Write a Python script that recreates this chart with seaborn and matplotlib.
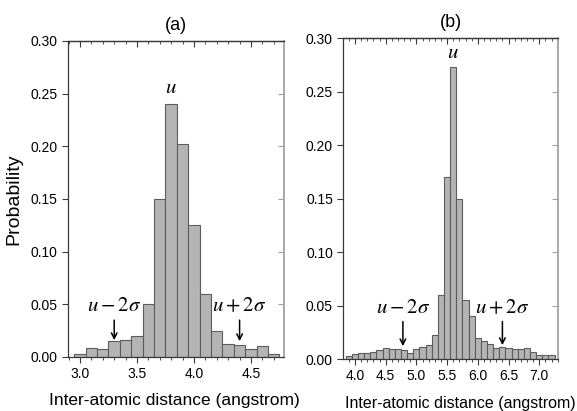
import numpy as np
import seaborn as sns
from matplotlib import pyplot as plt
from matplotlib.ticker import MultipleLocator

# panel (a): bin centres and probabilities
dist_a = [3.0, 3.1, 3.2, 3.3, 3.4, 3.5, 3.6, 3.7, 3.8, 3.9,
          4.0, 4.1, 4.2, 4.3, 4.4, 4.5, 4.6, 4.7]
prob_a = [0.003, 0.009, 0.008, 0.015, 0.016, 0.020, 0.050, 0.150, 0.240, 0.202,
          0.125, 0.060, 0.025, 0.012, 0.011, 0.008, 0.010, 0.003]

# panel (b): bin centres and probabilities
dist_b = [3.9, 4.0, 4.1, 4.2, 4.3, 4.4, 4.5, 4.6, 4.7, 4.8, 4.9,
          5.0, 5.1, 5.2, 5.3, 5.4, 5.5, 5.6, 5.7, 5.8, 5.9,
          6.0, 6.1, 6.2, 6.3, 6.4, 6.5, 6.6, 6.7, 6.8, 6.9,
          7.0, 7.1, 7.2]
prob_b = [0.003, 0.005, 0.006, 0.006, 0.007, 0.008, 0.010, 0.009, 0.009, 0.008, 0.006,
          0.009, 0.011, 0.013, 0.022, 0.060, 0.170, 0.273, 0.150, 0.055, 0.040,
          0.020, 0.017, 0.014, 0.010, 0.011, 0.010, 0.009, 0.009, 0.010, 0.007,
          0.004, 0.004, 0.004]

# (mean, mean-2sd, mean+2sd) marker positions
marks_a = (3.8, 3.3, 4.4)
marks_b = (5.6, 4.78, 6.4)

sns.set_style('ticks')
plt.rcParams['font.family'] = ['Liberation Sans', 'DejaVu Sans']
plt.rcParams['mathtext.fontset'] = 'stix'
plt.rcParams['text.color'] = 'black'
plt.rcParams['axes.labelcolor'] = 'black'

BAR = '#b4b4b4'
EDGE = '#5c5c5c'
SPINE = '#3a3a3a'


def draw_panel(ax, dist, prob, marks, xlim, title, u_y, ann_y, tip_a, tip_b):
    lo = dist[0] - 0.05
    hi = dist[-1] + 0.05
    sns.histplot(x=dist, weights=prob, binwidth=0.1, binrange=(lo, hi),
                 color=BAR, edgecolor=EDGE, linewidth=0.8, alpha=1, ax=ax)
    ax.set_xlim(*xlim)
    ax.set_ylim(0, 0.30)
    ax.yaxis.set_major_locator(MultipleLocator(0.05))
    ax.yaxis.set_major_formatter(plt.FormatStrFormatter('%.2f'))
    ax.xaxis.set_major_locator(MultipleLocator(0.5))
    ax.xaxis.set_minor_locator(MultipleLocator(0.1))
    ax.xaxis.set_major_formatter(plt.FormatStrFormatter('%.1f'))
    ax.set_ylabel('')
    ax.set_title(title, fontsize=13, pad=8, color='black')

    for side in ['left', 'bottom', 'top']:
        ax.spines[side].set_visible(True)
        ax.spines[side].set_color(SPINE)
        ax.spines[side].set_linewidth(0.9)
    ax.spines['right'].set_visible(True)
    ax.spines['right'].set_color('#a8a8a8')
    ax.spines['right'].set_linewidth(1.2)

    ax.tick_params(axis='both', labelsize=10, colors=SPINE, labelcolor='black')
    ax.tick_params(axis='x', which='major', direction='out', length=4)
    ax.tick_params(axis='x', which='minor', direction='out', length=2)
    ax.tick_params(axis='y', which='major', direction='out', length=4)

    # inward ticks on the top and right edges
    top = ax.secondary_xaxis('top')
    top.xaxis.set_major_locator(MultipleLocator(0.5))
    top.xaxis.set_minor_locator(MultipleLocator(0.1))
    top.tick_params(which='major', direction='in', length=4, labeltop=False, colors=SPINE)
    top.tick_params(which='minor', direction='in', length=2, colors=SPINE)
    top.spines['top'].set_color(SPINE)
    top.spines['top'].set_linewidth(0.9)
    right = ax.secondary_yaxis('right')
    right.yaxis.set_major_locator(MultipleLocator(0.05))
    right.tick_params(direction='in', length=4, labelright=False, colors='#a0a0a0')
    right.spines['right'].set_color('#a8a8a8')
    right.spines['right'].set_linewidth(1.2)

    mean, minus, plus = marks
    ax.text(mean, u_y, '$u$', fontsize=15, ha='center', va='bottom')
    ax.text(minus, ann_y, r'$u-2\sigma$', fontsize=15, ha='center', va='center')
    ax.text(plus, ann_y, r'$u+2\sigma$', fontsize=15, ha='center', va='center')
    arrow = dict(arrowstyle='->', color='black', lw=1.1, shrinkA=0, shrinkB=0)
    ax.annotate('', xy=(minus, tip_a), xytext=(minus, 0.035), arrowprops=arrow)
    ax.annotate('', xy=(plus, tip_b), xytext=(plus, 0.035), arrowprops=arrow)


fig = plt.figure(figsize=(5.77, 4.11), dpi=100)
ax_a = fig.add_axes([0.1179, 0.1314, 0.3744, 0.7689])
ax_b = fig.add_axes([0.595, 0.1265, 0.3726, 0.7803])

draw_panel(ax_a, dist_a, prob_a, marks_a, (2.895, 4.79), '(a)', 0.247, 0.049, 0.016, 0.015)
draw_panel(ax_b, dist_b, prob_b, marks_b, (3.81, 7.31), '(b)', 0.278, 0.048, 0.012, 0.013)

ax_a.set_ylabel('Probability', fontsize=14, labelpad=6)
ax_a.set_xlabel('Inter-atomic distance (angstrom)', fontsize=12.5)
ax_a.xaxis.set_label_coords(0.49, -0.115)
ax_b.set_xlabel('Inter-atomic distance (angstrom)', fontsize=11.5)
ax_b.xaxis.set_label_coords(0.545, -0.115)

fig.savefig('out.png', dpi=100)
